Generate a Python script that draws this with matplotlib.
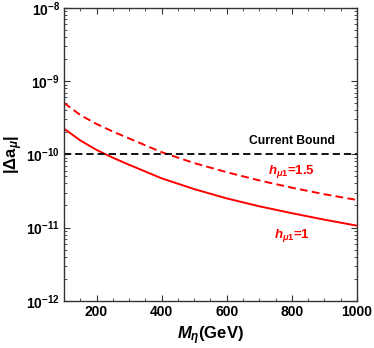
import numpy as np
import matplotlib
matplotlib.use("Agg")
import matplotlib.pyplot as plt
from matplotlib.ticker import FixedLocator, LogLocator, NullFormatter

# === DATA ===
M_ETA = [100, 150, 200, 250, 300, 400, 500, 600, 700, 800, 900, 1000]
DELTA_A_H1 = [2.25e-10, 1.55e-10, 1.15e-10, 9.0e-11, 7.2e-11, 4.7e-11,
              3.35e-11, 2.5e-11, 1.95e-11, 1.57e-11, 1.28e-11, 1.06e-11]
DELTA_A_H15 = [5.05e-10, 3.45e-10, 2.6e-10, 2.05e-10, 1.65e-10, 1.07e-10,
               7.6e-11, 5.7e-11, 4.4e-11, 3.5e-11, 2.85e-11, 2.38e-11]
CURRENT_BOUND = 1e-10
X_TICKS = [200, 400, 600, 800, 1000]
Y_TICKS = [1e-12, 1e-11, 1e-10, 1e-9, 1e-8]
Y_TICK_LABELS = [r"$\mathbf{10^{-12}}$", r"$\mathbf{10^{-11}}$", r"$\mathbf{10^{-10}}$",
                 r"$\mathbf{10^{-9}}$", r"$\mathbf{10^{-8}}$"]

# === STYLE ===
plt.rcParams["font.family"] = ["Liberation Sans", "DejaVu Sans"]
plt.rcParams["font.weight"] = "bold"
plt.rcParams["mathtext.fontset"] = "custom"
plt.rcParams["mathtext.rm"] = "Liberation Sans:bold"
plt.rcParams["mathtext.bf"] = "Liberation Sans:bold"
plt.rcParams["mathtext.it"] = "Liberation Sans:italic:bold"

fig = plt.figure(figsize=(3.74, 3.48), dpi=100)
ax = fig.add_axes([64 / 374, 1 - 300.7 / 348, (357 - 64) / 374, (300.7 - 8) / 348])

ax.plot(M_ETA, DELTA_A_H1, color="red", lw=1.4)
ax.plot(M_ETA, DELTA_A_H15, color="red", lw=1.4, dashes=(4, 2.2))
ax.axhline(CURRENT_BOUND, color="black", lw=1.3, dashes=(4, 2.2))

ax.set_yscale("log")
ax.set_xlim(100, 1000)
ax.set_ylim(1e-12, 1e-8)

ax.xaxis.set_major_locator(FixedLocator(X_TICKS))
ax.xaxis.set_minor_locator(FixedLocator(np.arange(100, 1001, 50)))
ax.set_xticklabels([str(t) for t in X_TICKS])
ax.yaxis.set_major_locator(FixedLocator(Y_TICKS))
ax.set_yticklabels(Y_TICK_LABELS)
ax.yaxis.set_minor_locator(LogLocator(base=10, subs=np.arange(2, 10), numticks=20))
ax.yaxis.set_minor_formatter(NullFormatter())

ax.tick_params(which="both", direction="in", top=True, right=True, labelsize=10,
               color="#333333", pad=3)
ax.tick_params(which="major", length=4, width=0.8)
ax.tick_params(which="minor", length=2, width=0.6)
for s in ax.spines.values():
    s.set_linewidth(1.0)
    s.set_color("#333333")

ax.set_xlabel(r"$M_\eta$(GeV)", fontsize=12, fontweight="bold", labelpad=4)
ax.set_ylabel(r"$|\Delta\mathrm{a}_\mu|$", fontsize=12, fontweight="bold", labelpad=1)

ax.text(800, 1.5e-10, "Current Bound", color="black", fontsize=8.7, fontweight="bold",
        ha="center", va="center")
ax.text(800, 5.8e-11, r"$h_{\mu 1}$=1.5", color="red", fontsize=9.5, fontweight="bold",
        ha="center", va="center")
ax.text(800, 7.9e-12, r"$h_{\mu 1}$=1", color="red", fontsize=9.5, fontweight="bold",
        ha="center", va="center")

fig.savefig("out.png", dpi=100)
